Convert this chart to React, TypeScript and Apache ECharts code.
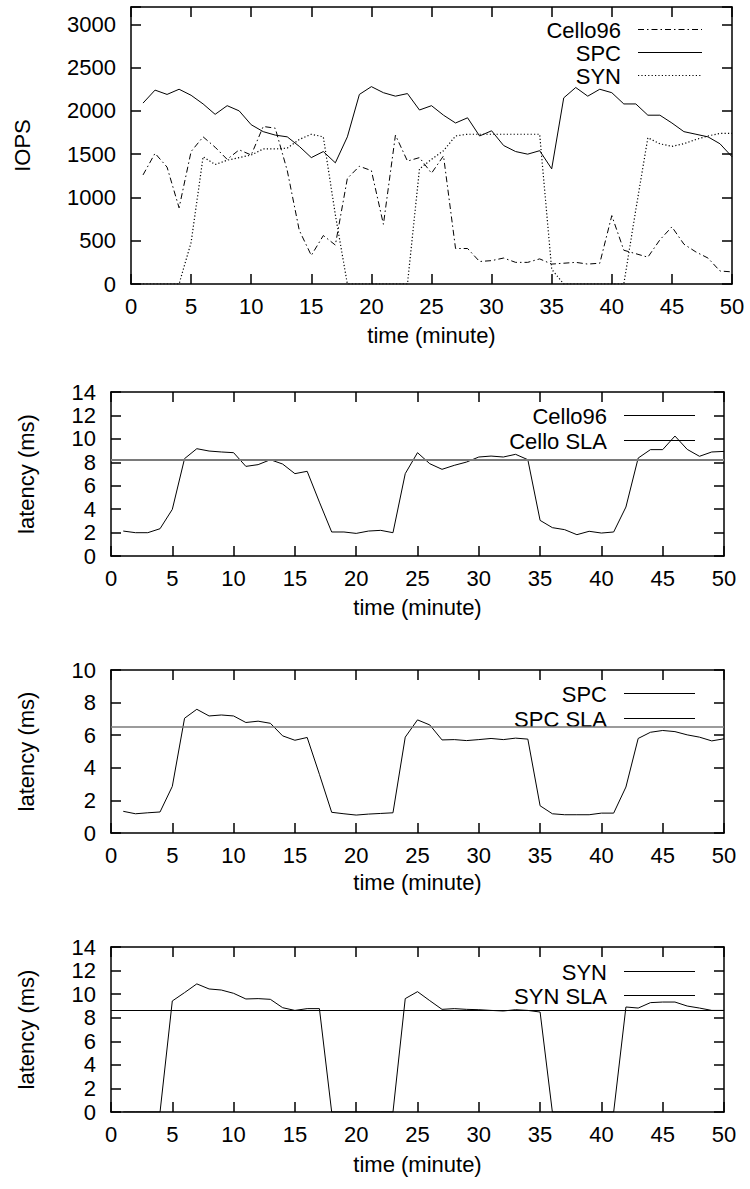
import React, { useEffect, useRef } from "react";
import * as echarts from "echarts";

const minutes = [1,2,3,4,5,6,7,8,9,10,11,12,13,14,15,16,17,18,19,20,21,22,23,24,25,26,27,28,29,30,31,32,33,34,35,36,37,38,39,40,41,42,43,44,45,46,47,48,49,50];

const cello96Iops = [1260,1510,1350,880,1530,1700,1580,1440,1550,1490,1820,1800,1310,620,330,560,450,1220,1360,1310,690,1720,1420,1460,1280,1480,410,410,260,270,300,250,250,290,230,240,250,230,240,790,390,350,310,510,660,460,370,300,150,140];
const spcIops = [2090,2240,2190,2250,2180,2080,1960,2060,2000,1840,1760,1720,1700,1590,1460,1530,1400,1700,2190,2280,2210,2170,2200,2010,2060,1950,1860,1920,1710,1770,1600,1530,1500,1540,1330,2150,2270,2170,2250,2210,2080,2080,1950,1950,1860,1760,1730,1700,1620,1470];
const synIops = [0,0,0,0,480,1470,1380,1430,1460,1490,1560,1560,1570,1670,1730,1700,800,0,0,0,0,0,0,1330,1440,1540,1710,1730,1730,1730,1730,1730,1730,1730,170,0,0,0,0,0,0,860,1690,1620,1590,1620,1670,1710,1740,1740];

const cello96Latency = [2.13,1.99,1.99,2.33,3.98,8.31,9.16,8.96,8.88,8.82,7.65,7.8,8.22,7.85,7.03,7.23,4.6,2.05,2.05,1.93,2.13,2.19,1.99,7.03,8.82,7.88,7.4,7.74,8.02,8.45,8.53,8.45,8.68,8.22,3.04,2.42,2.25,1.82,2.11,1.96,2.05,4.18,8.36,9.08,9.08,10.24,9.1,8.51,8.88,8.93];
const spcLatency = [1.33,1.18,1.24,1.29,2.86,7.04,7.59,7.18,7.24,7.18,6.78,6.86,6.73,5.96,5.69,5.86,3.6,1.27,1.18,1.1,1.16,1.2,1.24,5.88,6.94,6.63,5.71,5.73,5.67,5.73,5.8,5.73,5.82,5.76,1.67,1.18,1.12,1.12,1.12,1.22,1.22,2.82,5.8,6.18,6.29,6.22,6.02,5.88,5.65,5.78];
const synLatency = [0,0,0,0,9.42,10.13,10.87,10.44,10.35,10.07,9.59,9.62,9.56,8.85,8.62,8.77,8.77,0,0,0,0,0,0,9.62,10.21,9.45,8.71,8.77,8.71,8.68,8.62,8.57,8.68,8.62,8.48,0,0,0,0,0,0,8.91,8.82,9.28,9.33,9.33,8.99,8.82,8.62,8.62];

const celloSla = 8.2;
const spcSla = 6.5;
const synSla = 8.6;

const FONT = "'Liberation Sans', Arial, Helvetica, sans-serif";
const FS = 22;

const pairs = (ys: number[]) => minutes.map((m, i) => [m, ys[i]]);

function axesFor(gi: number, yMax: number, yInt: number, yName: string, yNameGap: number, xNameGap: number) {
  const lineStyle = { color: "#000", width: 1.5 };
  const tick = { show: true, inside: true, length: 10, lineStyle: { color: "#000", width: 1.5 } };
  const text = { color: "#000", fontSize: FS, fontFamily: FONT };
  const xAxes = [
    {
      gridIndex: gi, type: "value", min: 0, max: 50, interval: 5, position: "bottom",
      axisLine: { show: true, onZero: false, lineStyle }, axisTick: tick,
      axisLabel: { ...text, margin: 11 }, splitLine: { show: false },
      name: "time (minute)", nameLocation: "middle", nameGap: xNameGap, nameTextStyle: text,
    },
    {
      gridIndex: gi, type: "value", min: 0, max: 50, interval: 5, position: "top",
      axisLine: { show: true, onZero: false, lineStyle }, axisTick: tick,
      axisLabel: { show: false }, splitLine: { show: false },
    },
  ];
  const yAxes = [
    {
      gridIndex: gi, type: "value", min: 0, max: yMax, interval: yInt, position: "left",
      axisLine: { show: true, onZero: false, lineStyle }, axisTick: tick,
      axisLabel: { ...text, margin: 15, formatter: (v: number) => (v % yInt === 0 ? String(v) : "") },
      splitLine: { show: false },
      name: yName, nameLocation: "middle", nameGap: yNameGap, nameTextStyle: text,
    },
    {
      gridIndex: gi, type: "value", min: 0, max: yMax, interval: yInt, position: "right",
      axisLine: { show: true, onZero: false, lineStyle }, axisTick: tick,
      axisLabel: { show: false }, splitLine: { show: false },
    },
  ];
  return { xAxes, yAxes };
}

function legendItems(textRight: number, x1: number, x2: number, items: { label: string; y: number; dash?: number[] | null }[]) {
  const els: any[] = [];
  for (const it of items) {
    els.push({
      type: "text", x: textRight, y: it.y + 1,
      style: { text: it.label, align: "right", verticalAlign: "middle", fill: "#000", fontSize: FS, fontFamily: FONT },
    });
    els.push({
      type: "line", shape: { x1, y1: it.y, x2, y2: it.y },
      style: { stroke: "#000", lineWidth: 1, lineDash: it.dash || null },
    });
  }
  return els;
}

const DASHDOT = [6, 3, 1.5, 3];
const DOTTED = [1.2, 2.2];

export default function App() {
  const ref = useRef<HTMLDivElement>(null);
  useEffect(() => {
    if (!ref.current) return;
    const chart = echarts.init(ref.current, null, { renderer: "svg" });

    const a0 = axesFor(0, 3200, 500, "IOPS", 98, 40);
    const a1 = axesFor(1, 14, 2, "latency (ms)", 74, 40);
    const a2 = axesFor(2, 10, 2, "latency (ms)", 74, 38);
    const a3 = axesFor(3, 14, 2, "latency (ms)", 74, 41);

    const xAxis = [...a0.xAxes, ...a1.xAxes, ...a2.xAxes, ...a3.xAxes];
    const yAxis = [...a0.yAxes, ...a1.yAxes, ...a2.yAxes, ...a3.yAxes];

    const base = { type: "line", showSymbol: false, symbol: "none", silent: true };
    const slaLine = (v: number, color: string, width: number) => ({
      silent: true, symbol: "none", label: { show: false },
      lineStyle: { color, width, type: "solid" }, data: [{ yAxis: v }],
    });

    const option: any = {
      animation: false,
      backgroundColor: "#fff",
      grid: [
        { left: 131, top: 7, width: 601, height: 277 },
        { left: 111, top: 392, width: 613, height: 164 },
        { left: 111, top: 670, width: 613, height: 163 },
        { left: 111, top: 947, width: 613, height: 165 },
      ],
      xAxis,
      yAxis,
      series: [
        { ...base, name: "Cello96", xAxisIndex: 0, yAxisIndex: 0, data: pairs(cello96Iops), lineStyle: { color: "#000", width: 1, type: DASHDOT } },
        { ...base, name: "SPC", xAxisIndex: 0, yAxisIndex: 0, data: pairs(spcIops), lineStyle: { color: "#000", width: 1 } },
        { ...base, name: "SYN", xAxisIndex: 0, yAxisIndex: 0, data: pairs(synIops), lineStyle: { color: "#000", width: 1.2, type: DOTTED } },
        { ...base, name: "Cello96 latency", xAxisIndex: 2, yAxisIndex: 2, data: pairs(cello96Latency), lineStyle: { color: "#000", width: 1 }, markLine: slaLine(celloSla, "#7a7a7a", 2) },
        { ...base, name: "SPC latency", xAxisIndex: 4, yAxisIndex: 4, data: pairs(spcLatency), lineStyle: { color: "#000", width: 1 }, markLine: slaLine(spcSla, "#7a7a7a", 1.6) },
        { ...base, name: "SYN latency", xAxisIndex: 6, yAxisIndex: 6, data: pairs(synLatency), lineStyle: { color: "#000", width: 1 }, markLine: slaLine(synSla, "#000", 1.2) },
      ],
      graphic: [
        ...legendItems(621, 638, 702, [
          { label: "Cello96", y: 29.5, dash: DASHDOT },
          { label: "SPC", y: 52.5 },
          { label: "SYN", y: 75.5, dash: DOTTED },
        ]),
        ...legendItems(607, 624, 695, [
          { label: "Cello96", y: 415.5 },
          { label: "Cello SLA", y: 440.5 },
        ]),
        ...legendItems(607, 624, 695, [
          { label: "SPC", y: 693.5 },
          { label: "SPC SLA", y: 718.5 },
        ]),
        ...legendItems(607, 624, 695, [
          { label: "SYN", y: 971.5 },
          { label: "SYN SLA", y: 995.5 },
        ]),
      ],
    };
    chart.setOption(option);
    return () => chart.dispose();
  }, []);
  return <div ref={ref} style={{ position: "absolute", left: 0, top: 0, width: 750, height: 1189, background: "#fff" }} />;
}
